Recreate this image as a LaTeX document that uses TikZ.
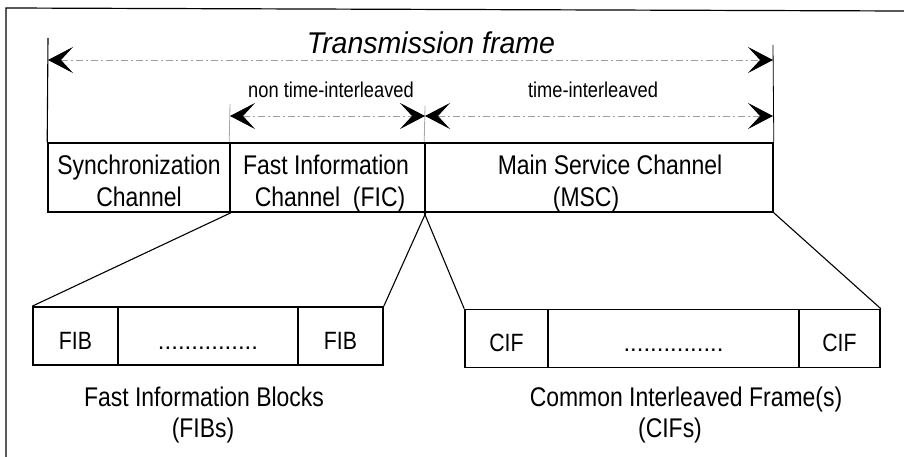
\documentclass[tikz,border=0pt]{standalone}
\usepackage{fontspec}
\setmainfont{Liberation Sans}
\newfontfamily\nf[FakeStretch=0.85]{Liberation Sans}
\newfontfamily\tf[FakeStretch=0.95]{Liberation Sans}
\usetikzlibrary{arrows.meta}
\begin{document}
\begin{tikzpicture}[x=1pt,y=-1pt,
  box/.style={draw, line width=1.6pt, inner sep=0pt, minimum height=69pt},
  bbox/.style={draw, line width=1.6pt, inner sep=0pt, minimum height=58pt,
    text height=26pt, text depth=0pt, font=\nf\fontsize{25}{30}\selectfont},
  lbl/.style={font=\nf\fontsize{27}{32}\selectfont, anchor=base, inner sep=0pt},
  sub/.style={font=\nf\fontsize{21.5}{26}\selectfont, anchor=base, inner sep=0pt},
  tip/.tip={Stealth[length=25pt,width=26pt,inset=12pt,color=black]},
  dim/.style={draw=gray!75, line width=0.8pt,
    dash pattern=on 7pt off 3pt on 2pt off 3pt, tip-tip},
  tick/.style={line width=0.8pt},
  fan/.style={line width=1.1pt}]
\useasboundingbox (0,0) rectangle (904,457);

% outer frame
\coordinate (fbl) at (6,457);
\coordinate (ftl) at (6,8);
\coordinate (ftr) at (904,11);
\draw[line width=1.2pt] (fbl) -- (ftl) -- (ftr);

% top channel boxes
\node[box, minimum width=182pt] (sync) at (139,177.5) {};
\node[box, minimum width=195pt] (fic)  at (327.5,177.5) {};
\node[box, minimum width=348pt] (msc)  at (599,177.5) {};

\node[lbl] (sync1) at (139,175) {Synchronization};
\node[lbl] (sync2) at (139,207) {Channel};
\node[lbl] (fic1) at (326,175) {Fast Information};
\node[lbl] (fic2) at (330,207) {Channel~ (FIC)};
\node[lbl] (msc1) at (610,175) {Main Service Channel};
\node[lbl] (msc2) at (586,207) {(MSC)};

% ticks
\coordinate (t0) at (48,38);
\coordinate (t1) at (230,104);
\coordinate (t2) at (425,106);
\coordinate (t3) at (773,45);
\draw[line width=1.1pt] (t0) -- (sync.north west);
\draw[tick, gray!70] (t1) -- (fic.north west);
\draw[tick, gray!70] (t2) -- (msc.north west);
\draw[tick] (t3) -- (msc.north east);

% dimension arrows
\coordinate (a1) at (48,60);
\coordinate (a2) at (773,60);
\coordinate (b1) at (230,116);
\coordinate (b2) at (425,116);
\coordinate (b3) at (773,116);
\draw[dim] (a1) -- (a2);
\draw[dim] (b1) -- (b2);
\draw[dim] (b2) -- (b3);

\node[font=\tf\itshape\fontsize{30}{34}\selectfont, anchor=base, inner sep=0pt] (tframe) at (431,54) {Transmission frame};
\node[sub] (nti) at (331,98) {non time-interleaved};
\node[sub] (ti) at (593,98) {time-interleaved};

% bottom blocks
\node[bbox, minimum width=85pt]  (fib1) at (75.5,336) {FIB};
\node[bbox, minimum width=180pt, font=\fontsize{24}{28}\selectfont] (fibd) at (208,336) {...............};
\node[bbox, minimum width=85pt]  (fib2) at (340.5,336) {FIB};

\node[bbox, minimum width=83pt]  (cif1) at (506.5,338.5) {CIF};
\node[bbox, minimum width=251pt, font=\fontsize{24}{28}\selectfont] (cifd) at (673.5,338.5) {...............};
\node[bbox, minimum width=81pt]  (cif2) at (839.5,338.5) {CIF};

% fan lines
\draw[fan] (sync.south east) -- (fib1.north west);
\draw[fan] (fic.south east) -- (fib2.north east);
\draw[fan] (msc.south west) -- (cif1.north west);
\draw[fan] (msc.south east) -- (cif2.north east);

% captions
\node[lbl] (fibl1) at (204,406) {Fast Information Blocks};
\node[lbl] (fibl2) at (203,437) {(FIBs)};
\node[lbl] (cifl1) at (686,406) {Common Interleaved Frame(s)};
\node[lbl] (cifl2) at (670,437) {(CIFs)};
\end{tikzpicture}
\end{document}
